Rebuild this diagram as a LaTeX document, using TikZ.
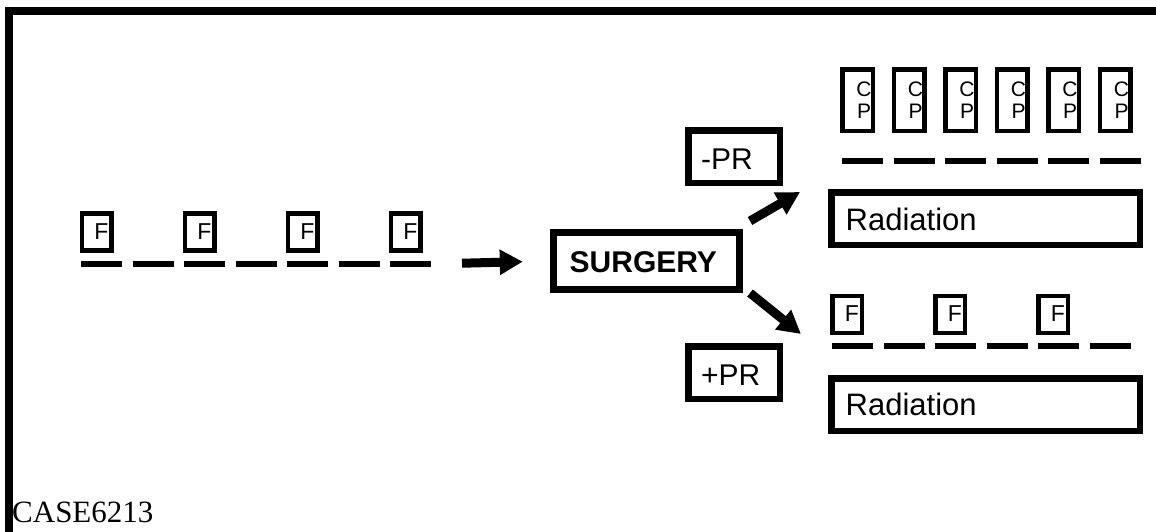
\documentclass[tikz,border=0pt]{standalone}
\usepackage{fontspec}
\setmainfont{Liberation Sans}
\newfontfamily\casefont{Liberation Serif}
\usetikzlibrary{arrows.meta}
\tikzset{
  fbox/.style={draw, line width=4.5pt, minimum width=29.5pt, minimum height=37pt, inner sep=0pt},
  cpbox/.style={draw, line width=4.5pt, minimum width=30.5pt, minimum height=61.5pt, inner sep=0pt},
  bigbox/.style={draw, line width=6.5pt, inner sep=0pt},
  ftext/.style={font=\fontsize{23}{27}\selectfont, inner sep=0pt},
  cptext/.style={font=\fontsize{21}{22}\selectfont, align=center, inner sep=0pt},
  lbl/.style={font=\fontsize{30}{36}\selectfont, inner sep=0pt, anchor=base west},
  dashrow/.style={line width=6.5pt, dash pattern=on 41pt off 10.5pt},
  bigarrow/.style={line width=9pt, -{Triangle[length=23pt,width=24pt]}},
  frame/.style={line width=8pt}
}
\begin{document}
\begin{tikzpicture}[x=1pt,y=-1pt]
\useasboundingbox (0,0) rectangle (1156,531);
% frame
\draw[frame] (9,540) -- (9,11) -- (1165,11);
% left F boxes
\foreach \i in {0,...,3} {
  \node[fbox] (lf\i) at (96.5+103*\i,232) {};
  \node[ftext] (lft\i) at (101.5+103*\i,231.5) {F};
}
\draw[dashrow] (81,264) -- (431,264);
\coordinate (ldashend) at (431,264);
% surgery
\node[bigbox, minimum width=186.5pt, minimum height=57.5pt, line width=7pt] (surgery) at (646.5,261) {};
\node[lbl, font=\bfseries\fontsize{30}{36}\selectfont] (surgerytxt) at (569.5,272) {SURGERY};
\draw[bigarrow, shorten <=31pt, shorten >=27pt] (ldashend) -- (surgery.west);
% PR boxes
\node[bigbox, minimum width=91.5pt, minimum height=52.5pt] (mpr) at (734,156.5) {};
\node[lbl] (mprtxt) at (701,169) {-PR};
\node[bigbox, minimum width=91.5pt, minimum height=52.5pt] (ppr) at (734,372.5) {};
\node[lbl] (pprtxt) at (701,385) {+PR};
% branch arrows
\coordinate (ua0) at (750,221);
\coordinate (ua1) at (800,192);
\coordinate (la0) at (750,293);
\coordinate (la1) at (801,334);
\draw[bigarrow] (ua0) -- (ua1);
\draw[bigarrow] (la0) -- (la1);
% CP boxes
\foreach \i in {0,...,5} {
  \node[cpbox] (cp\i) at (857.5+51.5*\i,100) {};
  \node[cptext] (cpt\i) at (864+51.5*\i,100) {C\\P};
}
\draw[dashrow] (842,161) -- (1141,161);
% upper radiation
\node[bigbox, minimum width=308.5pt, minimum height=52.5pt] (rad1) at (985.5,218.5) {};
\node[lbl, font=\fontsize{31}{37}\selectfont] (rad1txt) at (845.5,230) {Radiation};
% lower F boxes
\foreach \i in {0,...,2} {
  \node[fbox] (rf\i) at (847+103*\i,314.5) {};
  \node[ftext] (rft\i) at (852+103*\i,313.5) {F};
}
\draw[dashrow] (832,346) -- (1131,346);
% lower radiation
\node[bigbox, minimum width=308.5pt, minimum height=52.5pt] (rad2) at (985.5,404.5) {};
\node[lbl, font=\fontsize{31}{37}\selectfont] (rad2txt) at (845.5,415) {Radiation};
% case label
\node[lbl, font=\casefont\fontsize{31}{37}\selectfont] (case) at (12,522) {CASE6213};
\end{tikzpicture}
\end{document}
